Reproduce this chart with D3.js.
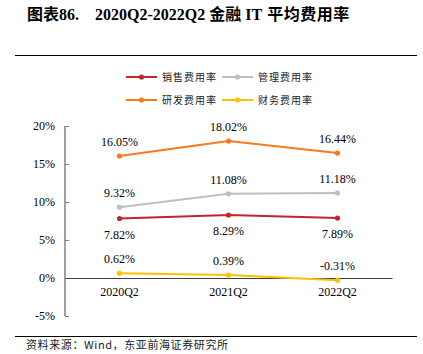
<!DOCTYPE html>
<html>
<head>
<meta charset="utf-8">
<script src="https://cdn.jsdelivr.net/npm/d3@7"></script>
<style>
  body { margin: 0; background: #fff; }
</style>
</head>
<body>
<div id="chart"></div>
<script>
const categories = ["2020Q2", "2021Q2", "2022Q2"];
const seriesNames = ["销售费用率", "管理费用率", "研发费用率", "财务费用率"];
const sales = [7.82, 8.29, 7.89];
const admin = [9.32, 11.08, 11.18];
const rnd = [16.05, 18.02, 16.44];
const finance = [0.62, 0.39, -0.31];
const yTicks = [-5, 0, 5, 10, 15, 20];

const W = 423, H = 354;
const serif = "'Liberation Serif', 'Times New Roman', serif";
const cjk = "'Noto Sans CJK SC', sans-serif";

const svg = d3.select("#chart").append("svg")
    .attr("width", W).attr("height", H)

// title
const title = svg.append("text").attr("x", 27).attr("y", 20)
    .attr("font-size", "16px").attr("font-weight", "bold").attr("fill", "#000")
title.append("tspan").style("font-family", cjk).text("图表")
title.append("tspan").style("font-family", serif).text("86.")
title.append("tspan").attr("dx", 16).style("font-family", serif).text("2020Q2-2022Q2")
title.append("tspan").attr("dx", 4).style("font-family", cjk).text("金融")
title.append("tspan").attr("dx", 4).style("font-family", serif).text("IT")
title.append("tspan").attr("dx", 5).style("font-family", cjk).attr("letter-spacing", "0.5px").text("平均费用率")

svg.append("line").attr("x1", 15).attr("x2", 417).attr("y1", 55.5).attr("y2", 55.5)
    .attr("stroke", "#000").attr("stroke-width", 1.2)

svg.append("line").attr("x1", 15).attr("x2", 417).attr("y1", 336.5).attr("y2", 336.5)
    .attr("stroke", "#000").attr("stroke-width", 1.2)

svg.append("text").attr("x", 26).attr("y", 349)
    .style("font-family", cjk).attr("font-size", "11px").attr("fill", "#222")
    .attr("letter-spacing", "0.6px")
    .text("资料来源：Wind，东亚前海证券研究所")

const x = d3.scaleBand().domain(categories).range([65, 392])
const y = d3.scaleLinear().domain([-5, 20]).range([316, 126])

const series = [
    { name: seriesNames[0], values: sales, color: "#C0272D", pos: "below" },
    { name: seriesNames[1], values: admin, color: "#BFBFBF", pos: "above" },
    { name: seriesNames[2], values: rnd, color: "#F97A1B", pos: "above" },
    { name: seriesNames[3], values: finance, color: "#FFC000", pos: "above" }
]

// y axis
const yAxis = svg.append("g").attr("transform", "translate(65,0)")
    .call(d3.axisRight(y).tickValues(yTicks).tickSize(4).tickFormat(d => d + "%"))
yAxis.select(".domain").attr("stroke", "#808080").attr("stroke-width", 1.5)
    .attr("d", "M0," + y(20) + "V" + y(-5))
yAxis.selectAll(".tick line").attr("stroke", "#808080")
yAxis.selectAll(".tick text").attr("x", -10).attr("text-anchor", "end")
    .style("font-family", serif).attr("font-size", "12px").attr("fill", "#000")

// x axis at zero
const xAxis = svg.append("g").attr("transform", "translate(0," + y(0) + ")")
    .call(d3.axisBottom(x).tickSize(0).tickPadding(9))
xAxis.select(".domain").attr("stroke", "#404040").attr("stroke-width", 1)
xAxis.selectAll(".tick text")
    .style("font-family", serif).attr("font-size", "12px").attr("fill", "#000")

const lineGen = d3.line()
    .x((d, i) => x(categories[i]) + x.bandwidth() / 2)
    .y(d => y(d))

series.forEach(s => {
    svg.append("path").datum(s.values)
        .attr("d", lineGen).attr("fill", "none")
        .attr("stroke", s.color).attr("stroke-width", 2)
    svg.selectAll(null).data(s.values).enter().append("circle")
        .attr("cx", (d, i) => x(categories[i]) + x.bandwidth() / 2)
        .attr("cy", d => y(d)).attr("r", 2.6).attr("fill", s.color)
    svg.selectAll(null).data(s.values).enter().append("text")
        .attr("x", (d, i) => x(categories[i]) + x.bandwidth() / 2)
        .attr("y", d => s.pos === "above" ? y(d) - 10 : y(d) + 20)
        .attr("text-anchor", "middle")
        .style("font-family", serif).attr("font-size", "12px").attr("fill", "#000")
        .text(d => d.toFixed(2) + "%")
})

// legend
const legendPos = [[126, 77], [222, 77], [126, 100], [222, 100]]
series.forEach((s, i) => {
    const g = svg.append("g").attr("transform", "translate(" + legendPos[i][0] + "," + legendPos[i][1] + ")")
    g.append("line").attr("x1", 0).attr("x2", 31).attr("y1", 0).attr("y2", 0)
        .attr("stroke", s.color).attr("stroke-width", 2)
    g.append("circle").attr("cx", 15.5).attr("cy", 0).attr("r", 2.6).attr("fill", s.color)
    g.append("text").attr("x", 36).attr("y", 3.5)
        .style("font-family", cjk).attr("font-size", "10px").attr("fill", "#222")
        .attr("letter-spacing", "1px")
        .text(s.name)
})
</script>
</body>
</html>
